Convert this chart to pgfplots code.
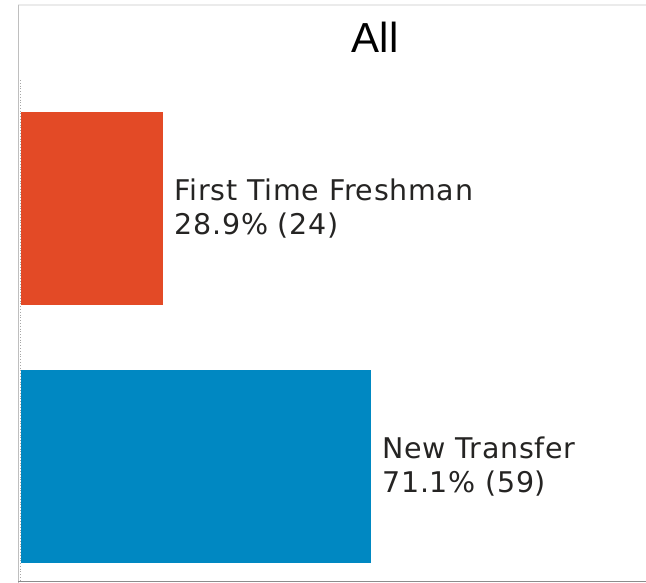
\documentclass[border=0pt]{standalone}
\usepackage{pgfplots}
\pgfplotsset{compat=1.18}
\usepackage{fontspec}
\setmainfont{DejaVu Sans}[LetterSpace=2.5]
\newfontfamily\titlefont{Liberation Sans}
\definecolor{barorange}{HTML}{E34A26}
\definecolor{barblue}{HTML}{0088C2}
\definecolor{labeltext}{HTML}{252423}

\begin{document}
\begin{tikzpicture}
\begin{axis}[
    width=646bp, height=583bp,
    scale only axis,
    hide axis,
    clip=false,
    xbar,
    bar width=193bp,
    bar shift=0pt,
    y dir=reverse,
    xmin=-3.54, xmax=105.4,
    ymin=-0.808, ymax=1.4516,
    ]
\coordinate (bl) at (rel axis cs:0,0);
\coordinate (tr) at (rel axis cs:1,1);
% frame of the visual
\draw[black!8, line width=2bp] (axis cs:-0.5,-0.789) -- (axis cs:105.4,-0.789);
\draw[black!25, line width=1.5bp] (axis cs:-0.4,-0.789) -- (axis cs:-0.4,1.4516);
\draw[black!45, line width=1.5bp] (axis cs:-0.5,1.4457) -- (axis cs:105.4,1.4457);
\draw[black!35, dotted, line width=0.8bp] (axis cs:-0.12,-0.498) -- (axis cs:-0.12,1.44);

% bars
\addplot[draw=none, fill=barorange] coordinates {(24,0)};
\addplot[draw=none, fill=barblue] coordinates {(59,1)};

% labels
\node[anchor=west, align=left, text=labeltext, font=\fontsize{28.5bp}{34.5bp}\selectfont, xshift=8bp]
    at (axis cs:24,0) {First Time Freshman\\28.9\% (24)};
\node[anchor=west, align=left, text=labeltext, font=\fontsize{28.5bp}{34.5bp}\selectfont, xshift=8bp]
    at (axis cs:59,1) {New Transfer\\71.1\% (59)};

% title
\node[anchor=base, font=\titlefont\fontsize{42bp}{48bp}\selectfont]
    at (axis cs:59.7,-0.603) {All};
\end{axis}
\pgfresetboundingbox
\path (bl) rectangle (tr);
\end{tikzpicture}
\end{document}
